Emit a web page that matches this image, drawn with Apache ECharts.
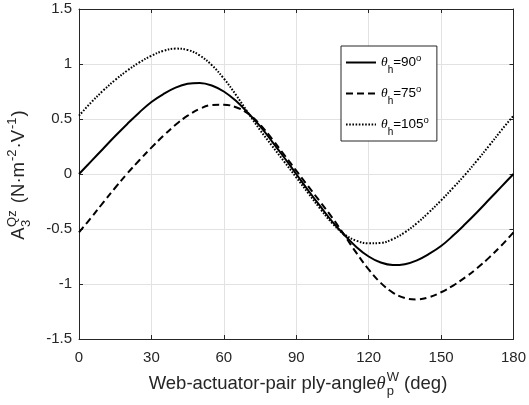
<!DOCTYPE html>
<html>
<head>
<meta charset="utf-8">
<script src="https://cdn.jsdelivr.net/npm/echarts@6/dist/echarts.min.js"></script>
<style>
html,body{margin:0;padding:0;background:#fff;}
#chart{width:529px;height:405px;}
</style>
</head>
<body>
<div id="chart"></div>
<script>
// ---- data ----
const angles = [0, 5, 10, 15, 20, 25, 30, 35, 40, 45, 50, 55, 60, 65, 70, 75, 80, 85, 90,
                95, 100, 105, 110, 115, 120, 125, 130, 135, 140, 145, 150, 155, 160, 165, 170, 175, 180];
const theta90 = [0, 0.115, 0.23, 0.345, 0.455, 0.56, 0.655, 0.727, 0.785, 0.82, 0.828, 0.805, 0.75,
                 0.665, 0.555, 0.435, 0.295, 0.15, 0,
                 -0.15, -0.295, -0.435, -0.555, -0.665, -0.75, -0.805, -0.828, -0.82, -0.785, -0.727,
                 -0.655, -0.56, -0.455, -0.345, -0.23, -0.115, 0];
const theta75 = [-0.53, -0.398, -0.26, -0.125, 0.005, 0.125, 0.24, 0.348, 0.447, 0.53, 0.592, 0.627, 0.63,
                 0.607, 0.55, 0.45, 0.318, 0.175, 0.03,
                 -0.113, -0.255, -0.40, -0.558, -0.72, -0.868, -0.99, -1.078, -1.128, -1.14, -1.12,
                 -1.075, -1.014, -0.94, -0.855, -0.758, -0.65, -0.53];
const theta105 = [0.53, 0.65, 0.758, 0.855, 0.94, 1.014, 1.075, 1.12, 1.14, 1.128, 1.078, 0.99, 0.868,
                  0.72, 0.558, 0.40, 0.255, 0.113, -0.03,
                  -0.175, -0.318, -0.45, -0.55, -0.607, -0.63, -0.627, -0.592, -0.53, -0.447, -0.348,
                  -0.24, -0.125, -0.005, 0.125, 0.26, 0.398, 0.53];
const seriesLabels = ['90', '75', '105'];
const xTicks = [0, 30, 60, 90, 120, 150, 180];
const yTicks = [-1.5, -1, -0.5, 0, 0.5, 1, 1.5];

// ---- helpers ----
const SANS = '"Liberation Sans", Arial, Helvetica, sans-serif';
const SERIF = '"Liberation Serif", "Times New Roman", serif';
const INK = '#262626';
const mctx = document.createElement('canvas').getContext('2d');
function fontStr(p) { return (p.it ? 'italic ' : '') + p.fs + 'px ' + (p.serif ? SERIF : SANS); }
function tw(p) { mctx.font = fontStr(p); return mctx.measureText(p.t).width; }
function seq(pieces) {
  const els = []; let x = 0;
  pieces.forEach(p => {
    const grp = p.stack || [p];
    let mw = 0;
    grp.forEach(q => {
      els.push({
        type: 'text', x: x + (q.dx || 0), y: (q.dy || 0) - 0.3465 * q.fs,
        style: { text: q.t, font: fontStr(q), fill: INK, align: 'left', verticalAlign: 'middle' }
      });
      mw = Math.max(mw, tw(q) + (q.dx || 0));
    });
    x += mw + (p.gap || 0);
  });
  els.forEach(e => { e.x -= x / 2; });
  return els;
}
const M = 18.5, S = 13;
const xTitle = seq([
  { t: 'Web-actuator-pair ply-angle', fs: M },
  { t: 'θ', fs: M, it: true, serif: true, gap: 1 },
  { stack: [{ t: 'W', fs: S, dy: -9 }, { t: 'p', fs: S, dy: 5 }], gap: 0 },
  { t: ' (deg)', fs: M }
]);
const yTitle = seq([
  { t: 'A', fs: M, gap: 0.5 },
  { stack: [{ t: 'Qz', fs: S, dy: -8 }, { t: '3', fs: S, dy: 6 }], gap: 2 },
  { t: ' (N·m', fs: M, gap: 1 },
  { t: '-2', fs: S, dy: -8, gap: 1 },
  { t: '·V', fs: M, gap: 1 },
  { t: '-1', fs: S, dy: -8, gap: 1 },
  { t: ')', fs: M }
]);

function pairs(vals) { return angles.map((a, i) => [a, vals[i]]); }

const chart = echarts.init(document.getElementById('chart'), null, { renderer: 'canvas' });
const axisCommon = {
  axisLine: { show: true, onZero: false, lineStyle: { color: INK, width: 1 } },
  axisTick: { show: true, inside: true, length: 4, lineStyle: { color: INK, width: 1 } }
};
const lineSeries = (name, vals, type, width) => ({
  name: name, type: 'line', data: pairs(vals), smooth: 0.4, symbol: 'none', showSymbol: false,
  xAxisIndex: 0, yAxisIndex: 0,
  lineStyle: { color: '#000', width: width, type: type },
  itemStyle: { color: '#000' },
  emphasis: { disabled: true }
});

chart.setOption({
  animation: false,
  backgroundColor: '#fff',
  grid: { left: 79, right: 12, top: 9, bottom: 66, containLabel: false },
  xAxis: [
    Object.assign({
      type: 'value', position: 'bottom', min: xTicks[0], max: xTicks[xTicks.length - 1], interval: 30,
      axisLabel: { color: INK, fontSize: 15, fontFamily: SANS, margin: 11 },
      splitLine: { show: true, lineStyle: { color: '#e2e2e2', width: 1 } }
    }, axisCommon),
    Object.assign({
      type: 'value', position: 'top', min: xTicks[0], max: xTicks[xTicks.length - 1], interval: 30,
      axisLabel: { show: false }, splitLine: { show: false }
    }, axisCommon)
  ],
  yAxis: [
    Object.assign({
      type: 'value', position: 'left', min: yTicks[0], max: yTicks[yTicks.length - 1], interval: 0.5,
      axisLabel: { color: INK, fontSize: 15, fontFamily: SANS, margin: 7 },
      splitLine: { show: true, lineStyle: { color: '#e2e2e2', width: 1 } }
    }, axisCommon),
    Object.assign({
      type: 'value', position: 'right', min: yTicks[0], max: yTicks[yTicks.length - 1], interval: 0.5,
      axisLabel: { show: false }, splitLine: { show: false }
    }, axisCommon)
  ],
  legend: {
    orient: 'vertical', left: 341, top: 46,
    padding: [4, 8, 4, 4], itemGap: 6, itemWidth: 30, itemHeight: 14,
    borderColor: INK, borderWidth: 1, backgroundColor: '#fff',
    data: seriesLabels,
    selectedMode: false,
    itemStyle: { color: 'rgba(0,0,0,0)', borderWidth: 0, opacity: 0 },
    formatter: n => '{th|θ}{sub|h}{n|=' + n + '}{sup|o}',
    textStyle: {
      color: '#000', fontFamily: SANS, fontSize: 13.5,
      rich: {
        th: { fontSize: 13.5, fontFamily: SERIF, fontStyle: 'italic', lineHeight: 22 },
        sub: { fontSize: 10, fontFamily: SANS, lineHeight: 22, padding: [15, 0, 0, 0] },
        n: { fontSize: 13.5, fontFamily: SANS, lineHeight: 22 },
        sup: { fontSize: 9.5, fontFamily: SANS, lineHeight: 22, padding: [0, 0, 9, 0] }
      }
    }
  },
  graphic: [
    { type: 'group', x: 298, y: 390.5, children: xTitle, silent: true },
    { type: 'group', x: 25, y: 175, rotation: Math.PI / 2, children: yTitle, silent: true }
  ],
  series: [
    lineSeries(seriesLabels[0], theta90, 'solid', 2),
    lineSeries(seriesLabels[1], theta75, [7, 4], 2),
    lineSeries(seriesLabels[2], theta105, [1.6, 1.6], 2)
  ]
});
</script>
</body>
</html>
